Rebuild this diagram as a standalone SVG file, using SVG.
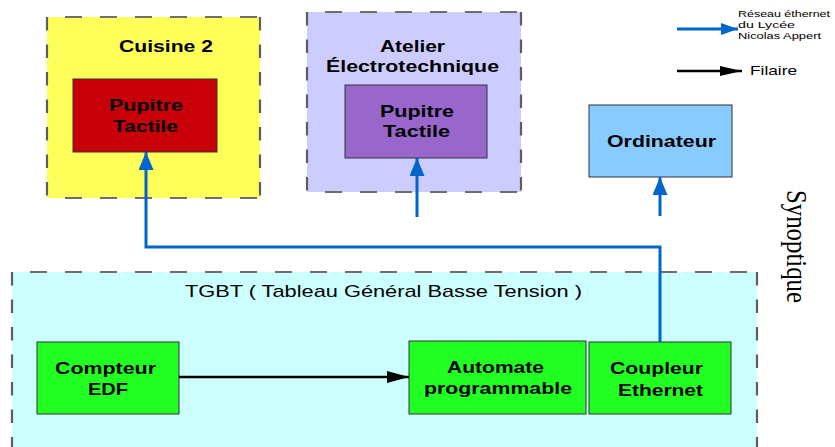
<svg xmlns="http://www.w3.org/2000/svg" width="835" height="447" viewBox="0 0 835 447">
<style>
.dh{fill:none;stroke:#6E6E6E;stroke-width:2;stroke-dasharray:17,18;stroke-dashoffset:-18}
.dv{fill:none;stroke:#5E5E5E;stroke-width:2.2;stroke-dasharray:13.5,14}
.box{stroke:#333;stroke-width:1}
.b{font-family:"Liberation Sans",Arial,sans-serif;font-weight:bold;font-size:17px;fill:#000}
.r{font-family:"Liberation Sans",Arial,sans-serif;font-size:17px;fill:#000}
.l{font-family:"Liberation Sans",Arial,sans-serif;font-size:9px;fill:#000}
.eth{fill:none;stroke:#0066CC;stroke-width:3}
.wire{fill:none;stroke:#000;stroke-width:2.5}
</style>
<defs>
<marker id="ab" markerUnits="userSpaceOnUse" markerWidth="18" markerHeight="15" refX="18" refY="7.5" orient="auto"><path d="M0,0 L18,7.5 L0,15 z" fill="#0066CC"/></marker>
<marker id="abs" markerUnits="userSpaceOnUse" markerWidth="17" markerHeight="12" refX="17" refY="6" orient="auto"><path d="M0,0 L17,6 L0,12 z" fill="#0066CC"/></marker>
<marker id="ak" markerUnits="userSpaceOnUse" markerWidth="22" markerHeight="12" refX="22" refY="6" orient="auto"><path d="M0,0 L22,6 L0,12 z" fill="#000"/></marker>
<marker id="aks" markerUnits="userSpaceOnUse" markerWidth="22" markerHeight="10" refX="22" refY="5" orient="auto"><path d="M0,0 L22,5 L0,10 z" fill="#000"/></marker>
</defs>

<g id="zone-cuisine">
<rect x="47" y="17" width="213" height="181" fill="#FFFF5A"/>
<path class="dh" d="M47,17 H260 M47,198 H260"/>
<path class="dv" d="M47,17 V198 M260,17 V198"/>
<text class="b" x="119" y="52" textLength="94" lengthAdjust="spacingAndGlyphs">Cuisine 2</text>
</g>
<g id="pupitre-cuisine">
<rect class="box" x="73" y="79" width="144" height="73" fill="#C8000A"/>
<text class="b" x="109" y="111" textLength="74" lengthAdjust="spacingAndGlyphs">Pupitre</text>
<text class="b" x="113" y="132" textLength="65" lengthAdjust="spacingAndGlyphs">Tactile</text>
</g>

<g id="zone-atelier">
<rect x="307" y="12" width="214" height="180" fill="#CCCCFF"/>
<path class="dh" d="M307,12 H521 M307,192 H521"/>
<path class="dv" d="M307,12 V192 M521,12 V192"/>
<text class="b" x="380" y="52" textLength="65" lengthAdjust="spacingAndGlyphs">Atelier</text>
<text class="b" x="326" y="72" textLength="173" lengthAdjust="spacingAndGlyphs">Électrotechnique</text>
</g>
<g id="pupitre-atelier">
<rect class="box" x="345" y="85" width="142" height="73" fill="#9966CC"/>
<text class="b" x="380" y="117" textLength="74" lengthAdjust="spacingAndGlyphs">Pupitre</text>
<text class="b" x="383" y="137" textLength="67" lengthAdjust="spacingAndGlyphs">Tactile</text>
</g>

<g id="ordinateur">
<rect class="box" x="589" y="105" width="143" height="72" fill="#88CCFF"/>
<text class="b" x="607" y="147" textLength="109" lengthAdjust="spacingAndGlyphs">Ordinateur</text>
</g>

<g id="legende">
<text class="l" x="738" y="17" textLength="92" lengthAdjust="spacingAndGlyphs">Réseau éthernet</text>
<text class="l" x="738" y="28" textLength="57" lengthAdjust="spacingAndGlyphs">du Lycée</text>
<text class="l" x="738" y="39" textLength="83" lengthAdjust="spacingAndGlyphs">Nicolas Appert</text>
<text class="r" x="750" y="75" style="font-size:13px" textLength="47" lengthAdjust="spacingAndGlyphs">Filaire</text>
</g>

<g id="synoptique">
<text transform="translate(787,190) scale(1.25,1) rotate(90)" x="0" y="0" font-family="'Liberation Serif','Times New Roman',serif" font-size="24" textLength="113" lengthAdjust="spacingAndGlyphs">Synoptique</text>
</g>

<g id="zone-tgbt">
<rect x="12" y="272" width="745" height="190" fill="#CCFFFF"/>
<path class="dh" d="M12,272 H757"/>
<path class="dv" d="M12,272 V462 M757,272 V462"/>
<text class="r" x="185" y="297" textLength="397" lengthAdjust="spacingAndGlyphs">TGBT ( Tableau Général Basse Tension )</text>
</g>
<g id="compteur">
<rect class="box" x="37" y="342" width="142" height="72" fill="#22FF22"/>
<text class="b" x="55" y="374" textLength="101" lengthAdjust="spacingAndGlyphs">Compteur</text>
<text class="b" x="88" y="395" textLength="40" lengthAdjust="spacingAndGlyphs">EDF</text>
</g>
<g id="automate">
<rect class="box" x="409" y="341" width="177" height="73" fill="#22FF22"/>
<text class="b" x="447" y="373" textLength="97" lengthAdjust="spacingAndGlyphs">Automate</text>
<text class="b" x="424" y="394" textLength="148" lengthAdjust="spacingAndGlyphs">programmable</text>
</g>
<g id="coupleur">
<rect class="box" x="589" y="342" width="142" height="72" fill="#22FF22"/>
<text class="b" x="610" y="374" textLength="93" lengthAdjust="spacingAndGlyphs">Coupleur</text>
<text class="b" x="618" y="396" textLength="85" lengthAdjust="spacingAndGlyphs">Ethernet</text>
</g>

<g id="connectors">
<path class="eth" d="M660,342 V247 H146 V152" marker-end="url(#ab)"/>
<path class="eth" d="M417,217 V158" marker-end="url(#ab)"/>
<path class="eth" d="M660,216 V177" marker-end="url(#ab)"/>
<path class="wire" d="M179,377 H409" marker-end="url(#ak)"/>
<path class="eth" d="M677,29 H738" marker-end="url(#abs)"/>
<path class="wire" d="M677,71 H742" marker-end="url(#aks)"/>
</g>
</svg>
